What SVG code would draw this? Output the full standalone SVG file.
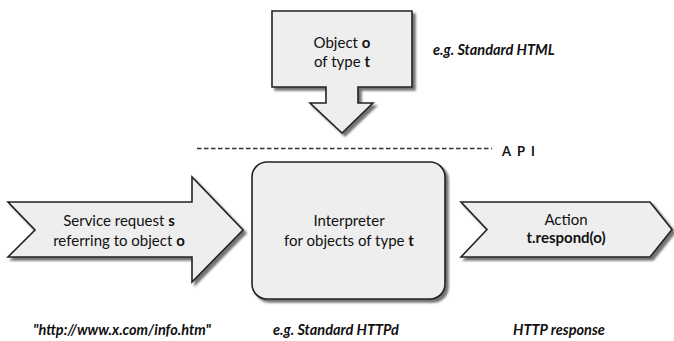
<svg xmlns="http://www.w3.org/2000/svg" width="674" height="341" viewBox="0 0 674 341">
  <defs>
    <filter id="shadow" x="-10%" y="-10%" width="130%" height="130%">
      <feDropShadow dx="3" dy="3" stdDeviation="1.2" flood-color="#444" flood-opacity="0.75"/>
    </filter>
  </defs>
  <style>
    .shape { fill: #eeeeee; stroke: #222222; stroke-width: 1.6; stroke-linejoin: miter; filter: url(#shadow); }
    .label { font-family: Lato, "Open Sans", sans-serif; font-size: 15px; fill: #111111; text-anchor: middle; }
    .b { font-weight: bold; }
    .note { font-family: Lato, "Open Sans", sans-serif; font-size: 14.5px; font-style: italic; font-weight: bold; fill: #111111; }
    .api { font-family: Lato, "Open Sans", sans-serif; font-size: 13px; font-weight: bold; letter-spacing: 6px; fill: #111111; }
  </style>

  <!-- API boundary -->
  <g id="api-boundary">
    <line x1="197" y1="148.5" x2="492" y2="148.5" stroke="#333" stroke-width="1.5" stroke-dasharray="4.5 2.5"/>
    <text class="api" x="502" y="156">API</text>
  </g>

  <!-- object flowing down into the interpreter -->
  <g id="object">
    <path class="shape" d="M272,11 H412 V87 H358 V103 H373 L342,133 L310,103 H326 V87 H272 Z"/>
    <text class="label" x="342" y="48">Object <tspan class="b">o</tspan></text>
    <text class="label" x="342" y="67">of type <tspan class="b">t</tspan></text>
  </g>
  <text class="note" x="433" y="55">e.g. Standard HTML</text>

  <!-- incoming request -->
  <g id="request">
    <path class="shape" d="M8,202 H192 V177 L243,230 L192,282 V257 H8 L35,230 Z"/>
    <text class="label" x="119" y="226">Service request <tspan class="b">s</tspan></text>
    <text class="label" x="119" y="246">referring to object <tspan class="b">o</tspan></text>
  </g>

  <!-- interpreter -->
  <g id="interpreter">
    <rect class="shape" x="252" y="162" width="193" height="137" rx="15" ry="15"/>
    <text class="label" x="349" y="226">Interpreter</text>
    <text class="label" x="349" y="246">for objects of type <tspan class="b">t</tspan></text>
  </g>

  <!-- resulting action -->
  <g id="action">
    <path class="shape" d="M461,202 H650 L672,229.5 L650,257 H461 L487,229.5 Z"/>
    <text class="label" x="566" y="225">Action</text>
    <text class="label b" x="566" y="243">t.respond(o)</text>
  </g>

  <!-- captions -->
  <g id="captions">
    <text class="note" x="33" y="335">"http://www.x.com/info.htm"</text>
    <text class="note" x="273" y="335">e.g. Standard HTTPd</text>
    <text class="note" x="513" y="335">HTTP response</text>
  </g>
</svg>
